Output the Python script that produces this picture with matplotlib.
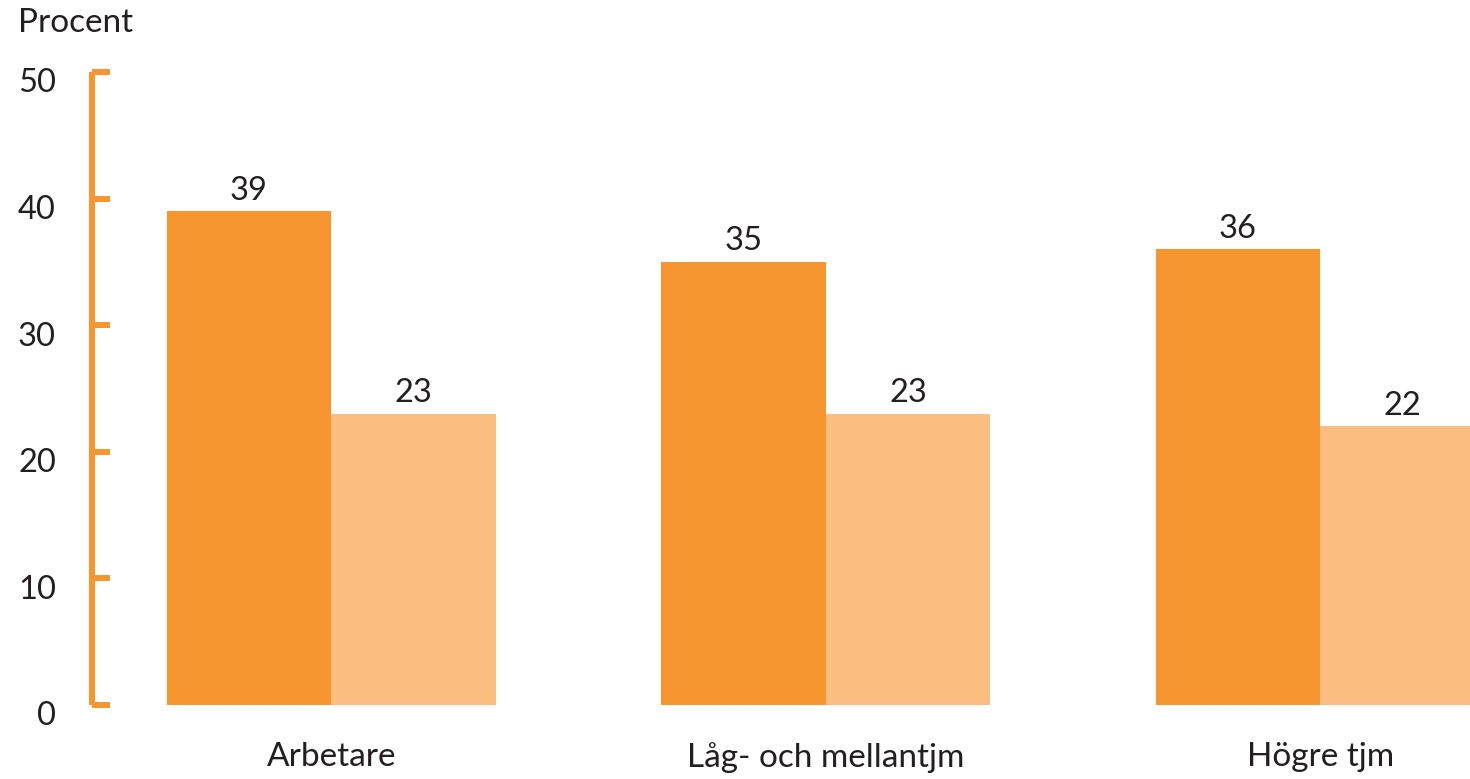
import matplotlib.pyplot as plt
import matplotlib.transforms as mtransforms
import numpy as np

# data
categories = ['Arbetare', 'Låg- och mellantjm', 'Högre tjm']
series_a = [39, 35, 36]
series_b = [23, 23, 22]
yticks = [0, 10, 20, 30, 40, 50]

dark = '#F7962F'
light = '#FBBE80'
text_col = '#231F20'

plt.rcParams['font.family'] = ['Lato', 'DejaVu Sans']

fig = plt.figure(figsize=(14.7, 7.79), dpi=100)
ax = fig.add_axes([92 / 1470, 74 / 779, 1 - 92 / 1470, 633 / 779])

x = np.arange(len(categories))
w = 0.333
bars_a = ax.bar(x - w / 2, series_a, w, color=dark, linewidth=0)
bars_b = ax.bar(x + w / 2, series_b, w, color=light, linewidth=0)

for bars in (bars_a, bars_b):
    for b in bars:
        ax.annotate(f'{b.get_height():.0f}', (b.get_x() + b.get_width() / 2, b.get_height()),
                    xytext=(0, 4), textcoords='offset points', ha='center', va='bottom',
                    fontsize=23.5, color=text_col)

ax.set_xlim(-0.484, 2.303)
ax.set_ylim(0, 50)

for s in ['top', 'right', 'bottom']:
    ax.spines[s].set_visible(False)
ax.spines['left'].set_color(dark)
ax.spines['left'].set_linewidth(4.3)
ax.spines['left'].set_capstyle('butt')

ax.set_yticks(yticks)
ax.tick_params(axis='y', direction='in', length=13, width=4.3, color=dark,
               labelsize=23.5, labelcolor=text_col, pad=26)
offset = mtransforms.ScaledTranslation(0, -6 / 72, fig.dpi_scale_trans)
for lab in ax.get_yticklabels():
    lab.set_transform(lab.get_transform() + offset)

ax.set_xticks(x)
ax.set_xticklabels(categories)
ax.tick_params(axis='x', length=0, labelsize=24, labelcolor=text_col, pad=27)

fig.text(18 / 1470, 1 - 23 / 779, 'Procent', fontsize=24, color=text_col, ha='left', va='center')

fig.savefig('out.png', dpi=100)
